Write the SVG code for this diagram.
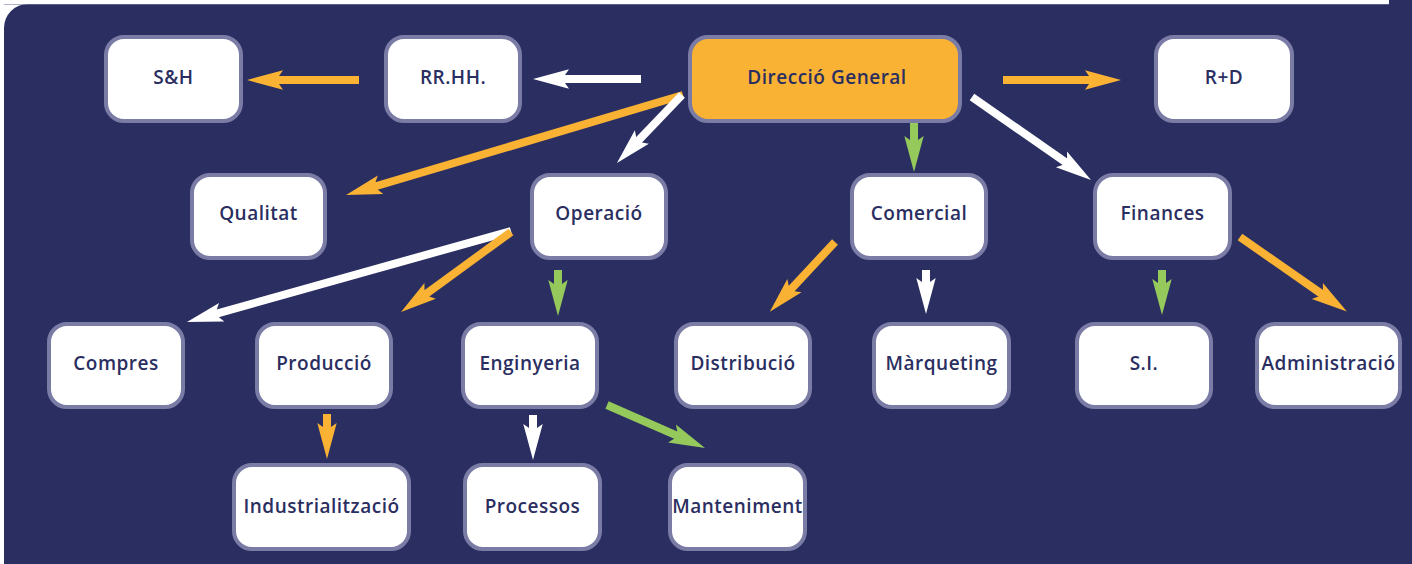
<svg xmlns="http://www.w3.org/2000/svg" width="1412" height="564" viewBox="0 0 1412 564">
<style>
.bg{fill:#2a2e61}
.node rect{fill:#ffffff;stroke:#7b7ca6;stroke-width:4}
.node.main rect{fill:#f9b233}
.node text{font-family:"Open Sans",Lato,"Liberation Sans",sans-serif;font-weight:600;font-size:19px;fill:#2a2e61;text-anchor:middle;letter-spacing:0.5px}
.c{stroke-width:8;fill:none}
.o{stroke:#f9b233;marker-end:url(#ho)}
.w{stroke:#ffffff;marker-end:url(#hw)}
.g{stroke:#95c95b;marker-end:url(#hg)}
</style>
<defs>
<marker id="ho" markerUnits="userSpaceOnUse" orient="auto" refX="0" refY="0" markerWidth="80" markerHeight="40" overflow="visible"><path d="M30,0 L-6,-9.7 L-2,-4 L-2,4 L-6,9.7 Z" fill="#f9b233"/></marker>
<marker id="hw" markerUnits="userSpaceOnUse" orient="auto" refX="0" refY="0" markerWidth="80" markerHeight="40" overflow="visible"><path d="M30,0 L-6,-9.7 L-2,-4 L-2,4 L-6,9.7 Z" fill="#ffffff"/></marker>
<marker id="hg" markerUnits="userSpaceOnUse" orient="auto" refX="0" refY="0" markerWidth="80" markerHeight="40" overflow="visible"><path d="M30,0 L-6,-9.7 L-2,-4 L-2,4 L-6,9.7 Z" fill="#95c95b"/></marker>
</defs>
<rect width="1412" height="564" fill="#ffffff"/>
<rect class="bg" x="4" y="4" width="1440" height="600" rx="24"/>
<rect class="bg" x="1389" y="0" width="23" height="30"/>
<line x1="4" y1="4.5" x2="1389" y2="4.5" stroke="#7b7ca6" stroke-width="1" opacity="0.6"/>

<g id="connectors">
<line class="c o" x1="359" y1="80" x2="277" y2="80"/>
<line class="c w" x1="641" y1="79" x2="563" y2="79"/>
<line class="c o" x1="1003" y1="80" x2="1091" y2="80"/>
<line class="c o" x1="683" y1="95" x2="374.8" y2="186.5"/>
<line class="c w" x1="682" y1="95" x2="637.7" y2="141.3"/>
<line class="c g" x1="914" y1="123" x2="914" y2="142"/>
<line class="c w" x1="972" y1="97" x2="1066.4" y2="162.8"/>
<line class="c w" x1="511" y1="231" x2="215.9" y2="313.9"/>
<line class="c o" x1="511" y1="232" x2="425.3" y2="294.4"/>
<line class="c g" x1="558" y1="270" x2="558" y2="286"/>
<line class="c o" x1="835" y1="242" x2="790.3" y2="289.9"/>
<line class="c w" x1="926" y1="270" x2="926" y2="284"/>
<line class="c g" x1="1162" y1="270" x2="1162" y2="285"/>
<line class="c o" x1="1240" y1="237" x2="1322.3" y2="294.4"/>
<line class="c o" x1="327" y1="414" x2="327" y2="429"/>
<line class="c w" x1="533" y1="415" x2="533" y2="430"/>
<line class="c g" x1="607" y1="405" x2="677.5" y2="435.9"/>
</g>

<g id="n-sh" class="node"><rect x="106" y="37" width="135" height="84" rx="18"/><text x="173.5" y="84">S&amp;H</text></g>
<g id="n-rrhh" class="node"><rect x="386" y="37" width="134" height="84" rx="18"/><text x="453" y="84">RR.HH.</text></g>
<g id="n-dg" class="node main"><rect x="690" y="37" width="270" height="84" rx="18"/><text x="827" y="84">Direcció General</text></g>
<g id="n-rd" class="node"><rect x="1156" y="37" width="136" height="84" rx="18"/><text x="1224" y="84">R+D</text></g>

<g id="n-qualitat" class="node"><rect x="192" y="175" width="133" height="83" rx="18"/><text x="258.5" y="220">Qualitat</text></g>
<g id="n-operacio" class="node"><rect x="532" y="175" width="134" height="83" rx="18"/><text x="599" y="220">Operació</text></g>
<g id="n-comercial" class="node"><rect x="852" y="175" width="134" height="83" rx="18"/><text x="919" y="220">Comercial</text></g>
<g id="n-finances" class="node"><rect x="1095" y="175" width="135" height="83" rx="18"/><text x="1162.5" y="220">Finances</text></g>

<g id="n-compres" class="node"><rect x="49" y="324" width="134" height="83" rx="18"/><text x="116" y="370">Compres</text></g>
<g id="n-produccio" class="node"><rect x="257" y="324" width="134" height="83" rx="18"/><text x="324" y="370">Producció</text></g>
<g id="n-enginyeria" class="node"><rect x="463" y="324" width="134" height="83" rx="18"/><text x="530" y="370">Enginyeria</text></g>
<g id="n-distribucio" class="node"><rect x="676" y="324" width="134" height="83" rx="18"/><text x="743" y="370">Distribució</text></g>
<g id="n-marqueting" class="node"><rect x="874" y="324" width="135" height="83" rx="18"/><text x="941.5" y="370">Màrqueting</text></g>
<g id="n-si" class="node"><rect x="1077" y="324" width="134" height="83" rx="18"/><text x="1144" y="370">S.I.</text></g>
<g id="n-administracio" class="node"><rect x="1257" y="324" width="143" height="83" rx="18"/><text x="1328.5" y="370">Administració</text></g>

<g id="n-industrialitzacio" class="node"><rect x="234" y="465" width="175" height="84" rx="18"/><text x="321.5" y="513">Industrialització</text></g>
<g id="n-processos" class="node"><rect x="465" y="465" width="135" height="84" rx="18"/><text x="532.5" y="513">Processos</text></g>
<g id="n-manteniment" class="node"><rect x="670" y="465" width="135" height="84" rx="18"/><text x="737.5" y="513">Manteniment</text></g>
</svg>
